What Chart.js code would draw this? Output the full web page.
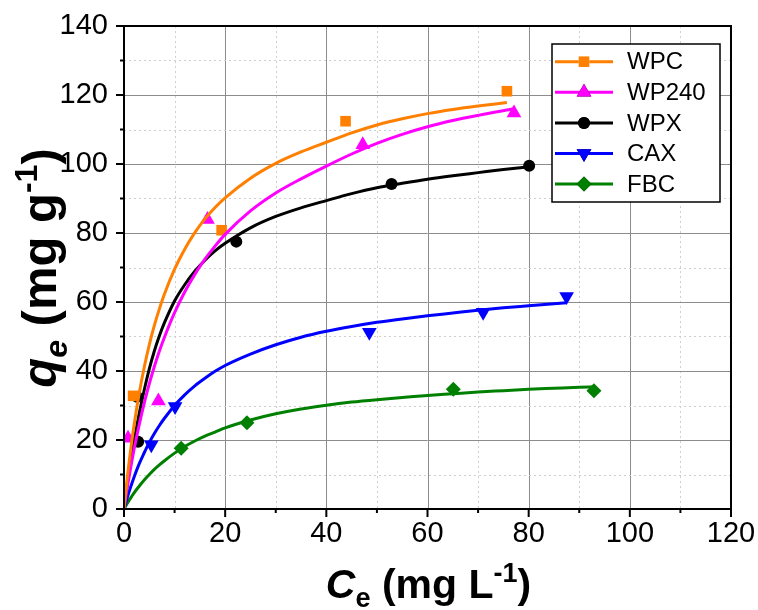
<!DOCTYPE html>
<html>
<head>
<meta charset="utf-8">
<script src="https://cdn.jsdelivr.net/npm/chart.js@4.4.0/dist/chart.umd.min.js"></script>
<style>
  html, body { margin: 0; padding: 0; background: #ffffff; }
  #wrap { width: 758px; height: 610px; position: relative; }
</style>
</head>
<body>
<div id="wrap"><canvas id="c" width="758" height="610"></canvas></div>
<script>
// ---------------- DATA ----------------
const seriesNames = ['WPC', 'WP240', 'WPX', 'CAX', 'FBC'];

// measured points
const wpcX   = [1.8, 19.3, 43.8, 75.7];
const wpcY   = [32.8, 80.8, 112.4, 121.1];
const wp240X = [0.8, 6.8, 16.5, 47.2, 77.1];
const wp240Y = [20.5, 31.3, 83.9, 105.6, 114.8];
const wpxX   = [2.8, 2.6, 22.2, 52.9, 80.1];
const wpxY   = [19.5, 32.5, 77.5, 94.2, 99.5];
const caxX   = [5.4, 10.1, 48.5, 71.0, 87.5];
const caxY   = [18.6, 29.7, 51.2, 57.0, 61.6];
const fbcX   = [11.3, 24.3, 65.1, 92.9];
const fbcY   = [17.6, 25.0, 34.7, 34.3];

// fitted curves
const wpcFitX   = [0, 0.5, 1, 1.5, 2, 3, 4, 5, 6, 7, 8, 10, 12, 14, 16, 18, 20, 25, 30, 35, 40, 45, 50, 55, 60, 65, 70, 75.7];
const wpcFitY   = [0, 7.1, 13.5, 19.3, 24.4, 33.5, 41.1, 47.6, 53.2, 58.0, 62.3, 69.5, 75.3, 80.1, 84.1, 87.4, 90.2, 95.9, 100.2, 103.5, 106.3, 109.0, 111.3, 113.1, 114.6, 115.8, 116.8, 117.8];
const wp240FitX = [0, 0.5, 1, 1.5, 2, 3, 4, 5, 6, 7, 8, 10, 12, 14, 16, 18, 20, 25, 30, 35, 40, 45, 50, 55, 60, 65, 70, 77];
const wp240FitY = [0, 4.9, 9.3, 13.5, 17.4, 24.4, 30.7, 36.3, 41.3, 45.8, 49.8, 56.9, 62.9, 68.0, 72.4, 76.2, 79.6, 86.4, 91.6, 95.7, 99.4, 102.9, 106.0, 108.6, 110.8, 112.6, 114.1, 116.0];
const wpxFitX   = [0, 0.5, 1, 1.5, 2, 3, 4, 5, 6, 7, 8, 10, 12, 14, 16, 18, 20, 25, 30, 35, 40, 45, 50, 55, 60, 65, 70, 75, 80];
const wpxFitY   = [0, 5.6, 10.8, 15.5, 19.8, 27.6, 34.5, 40.6, 45.8, 50.2, 54.0, 60.3, 65.0, 68.9, 72.1, 74.8, 77.0, 81.5, 84.8, 87.3, 89.4, 91.4, 93.1, 94.4, 95.6, 96.6, 97.5, 98.4, 99.2];
const caxFitX   = [0, 0.5, 1, 1.5, 2, 3, 4, 5, 6, 7, 8, 10, 12, 14, 16, 18, 20, 25, 30, 35, 40, 45, 50, 55, 60, 65, 70, 75, 80, 87.5];
const caxFitY   = [0, 2.6, 5.0, 7.2, 9.3, 13.1, 16.3, 19.3, 21.9, 24.2, 26.3, 30.0, 33.1, 35.7, 37.9, 39.9, 41.6, 44.9, 47.6, 49.8, 51.5, 52.9, 54.1, 55.1, 56.0, 56.8, 57.6, 58.3, 58.9, 59.8];
const fbcFitX   = [0, 0.5, 1, 1.5, 2, 3, 4, 5, 6, 7, 8, 10, 12, 14, 16, 18, 20, 25, 30, 35, 40, 45, 50, 55, 60, 65, 70, 75, 80, 85, 90, 93];
const fbcFitY   = [0, 1.3, 2.5, 3.6, 4.7, 6.6, 8.4, 10.0, 11.5, 12.8, 14.0, 16.2, 18.1, 19.7, 21.1, 22.3, 23.5, 25.8, 27.6, 29.0, 30.1, 31.0, 31.7, 32.3, 32.9, 33.4, 33.9, 34.3, 34.7, 35.0, 35.3, 35.4];

const xTickLabels = ['0', '20', '40', '60', '80', '100', '120'];
const yTickLabels = ['0', '20', '40', '60', '80', '100', '120', '140'];

// ---------------- STYLE ----------------
const colors = ['#FF7F00', '#FF00FF', '#000000', '#0000FF', '#008000'];
const pStyles = ['rect', 'triangle', 'circle', 'triangle', 'rectRot'];
const pRot = [0, 0, 0, 180, 0];
const pRad = [7.5, 8.5, 6, 8.5, 7.5];

function pts(xs, ys) { return xs.map((x, i) => ({ x: x, y: ys[i] })); }

const fits = [[wpcFitX, wpcFitY], [wp240FitX, wp240FitY], [wpxFitX, wpxFitY], [caxFitX, caxFitY], [fbcFitX, fbcFitY]];
const meas = [[wpcX, wpcY], [wp240X, wp240Y], [wpxX, wpxY], [caxX, caxY], [fbcX, fbcY]];

const datasets = [];
seriesNames.forEach((n, i) => {
  datasets.push({
    label: n + ' fit', data: pts(fits[i][0], fits[i][1]),
    showLine: true, borderColor: colors[i], borderWidth: 3, pointRadius: 0,
    cubicInterpolationMode: 'monotone', fill: false, order: i
  });
});
seriesNames.forEach((n, i) => {
  datasets.push({
    label: n, data: pts(meas[i][0], meas[i][1]),
    showLine: false, pointStyle: pStyles[i], rotation: pRot[i], pointRadius: pRad[i],
    pointBackgroundColor: colors[i], pointBorderColor: colors[i], pointBorderWidth: 0,
    clip: 0, order: 5 + i
  });
});

const FONT = '"Liberation Sans", Arial, sans-serif';

// grid, frame, ticks, titles, legend
const decor = {
  id: 'decor',
  beforeDatasetsDraw(chart) {
    const { ctx, chartArea: a, scales: { x, y } } = chart;
    ctx.save();
    for (let v = 10; v < 120; v += 10) {
      const px = Math.round(x.getPixelForValue(v)) + 0.5;
      ctx.beginPath();
      if (v % 20 === 0) { ctx.strokeStyle = '#8c8c8c'; ctx.setLineDash([]); }
      else { ctx.strokeStyle = '#cfcfcf'; ctx.setLineDash([2, 3]); }
      ctx.lineWidth = 1;
      ctx.moveTo(px, a.top); ctx.lineTo(px, a.bottom); ctx.stroke();
    }
    for (let v = 10; v < 140; v += 10) {
      const py = Math.round(y.getPixelForValue(v)) + 0.5;
      ctx.beginPath();
      if (v % 20 === 0) { ctx.strokeStyle = '#8c8c8c'; ctx.setLineDash([]); }
      else { ctx.strokeStyle = '#cfcfcf'; ctx.setLineDash([2, 3]); }
      ctx.lineWidth = 1;
      ctx.moveTo(a.left, py); ctx.lineTo(a.right, py); ctx.stroke();
    }
    ctx.restore();
  },
  afterDatasetsDraw(chart) {
    const { ctx, chartArea: a, scales: { x, y } } = chart;
    ctx.save();
    ctx.setLineDash([]);
    ctx.strokeStyle = '#000';
    ctx.lineWidth = 2;
    ctx.strokeRect(a.left, a.top, a.right - a.left, a.bottom - a.top);
    // ticks
    for (let v = 0; v <= 120; v += 10) {
      const px = x.getPixelForValue(v);
      const len = v % 20 === 0 ? 8 : 4;
      ctx.beginPath(); ctx.moveTo(px, a.bottom); ctx.lineTo(px, a.bottom + len); ctx.stroke();
    }
    for (let v = 0; v <= 140; v += 10) {
      const py = y.getPixelForValue(v);
      const len = v % 20 === 0 ? 8 : 4;
      ctx.beginPath(); ctx.moveTo(a.left, py); ctx.lineTo(a.left - len, py); ctx.stroke();
    }

    // axis titles
    function drawRich(parts, cx, cy, rotate) {
      ctx.save();
      ctx.translate(cx, cy);
      if (rotate) ctx.rotate(-Math.PI / 2);
      ctx.fillStyle = '#000';
      ctx.textBaseline = 'alphabetic';
      let total = 0;
      parts.forEach(p => { ctx.font = p.f; total += ctx.measureText(p.t).width; });
      let cur = -total / 2;
      parts.forEach(p => {
        ctx.font = p.f; ctx.textAlign = 'left';
        ctx.fillText(p.t, cur, p.dy || 0);
        cur += ctx.measureText(p.t).width;
      });
      ctx.restore();
    }
    const big = 'bold 41px ' + FONT, bigI = 'italic bold 41px ' + FONT;
    const sm = 'bold 27px ' + FONT;
    drawRich([
      { t: 'C', f: bigI }, { t: 'e', f: sm, dy: 9 }, { t: ' (mg L', f: big },
      { t: '-1', f: sm, dy: -16 }, { t: ')', f: big }
    ], (a.left + a.right) / 2 + 1, 598, false);
    const yb = 'bold 49px ' + FONT, ybI = 'italic bold 49px ' + FONT;
    const ys = 'bold 32px ' + FONT, ysI = 'italic bold 32px ' + FONT;
    drawRich([
      { t: 'q', f: ybI }, { t: 'e', f: ysI, dy: 11 }, { t: ' (mg g', f: yb },
      { t: '-1', f: ys, dy: -19 }, { t: ')', f: yb }
    ], 56, 268, true);

    // legend
    const lx = 552, ly = 44, lw = 168, lh = 158;
    ctx.fillStyle = '#fff';
    ctx.fillRect(lx, ly, lw, lh);
    ctx.lineWidth = 1.5; ctx.strokeStyle = '#000';
    ctx.strokeRect(lx, ly, lw, lh);
    seriesNames.forEach((n, i) => {
      const ry = 61.7 + i * 30.6;
      ctx.beginPath(); ctx.strokeStyle = colors[i]; ctx.lineWidth = 3;
      ctx.moveTo(555, ry); ctx.lineTo(613, ry); ctx.stroke();
      Chart.helpers.drawPoint(ctx, {
        pointStyle: pStyles[i], rotation: pRot[i], radius: pRad[i], borderWidth: 0
      }, 584, ry);
      ctx.fillStyle = colors[i];
      ctx.fill();
      ctx.fillStyle = '#000';
      ctx.font = '24px ' + FONT;
      ctx.textBaseline = 'middle'; ctx.textAlign = 'left';
      ctx.fillText(n, 627, ry + 1);
    });
    ctx.restore();
  }
};

new Chart(document.getElementById('c'), {
  type: 'scatter',
  data: { datasets: datasets },
  options: {
    responsive: false, animation: false, devicePixelRatio: 1,
    layout: { padding: { left: 0, top: 26, right: 27, bottom: 0 } },
    plugins: { legend: { display: false }, tooltip: { enabled: false } },
    scales: {
      x: {
        type: 'linear', min: 0, max: 120,
        afterFit(s) { s.height = 101; s.paddingLeft = 0; s.paddingRight = 0; },
        grid: { display: false, drawTicks: false }, border: { display: false },
        ticks: {
          stepSize: 20, autoSkip: false, padding: 8, color: '#000',
          font: { family: FONT, size: 29 },
          callback: (v) => xTickLabels[Math.round(v / 20)]
        }
      },
      y: {
        type: 'linear', min: 0, max: 140,
        afterFit(s) { s.width = 124; s.paddingTop = 0; s.paddingBottom = 0; },
        grid: { display: false, drawTicks: false }, border: { display: false },
        ticks: {
          stepSize: 20, autoSkip: false, padding: 16, color: '#000',
          font: { family: FONT, size: 29 },
          callback: (v) => yTickLabels[Math.round(v / 20)]
        }
      }
    }
  },
  plugins: [decor]
});
</script>
</body>
</html>
